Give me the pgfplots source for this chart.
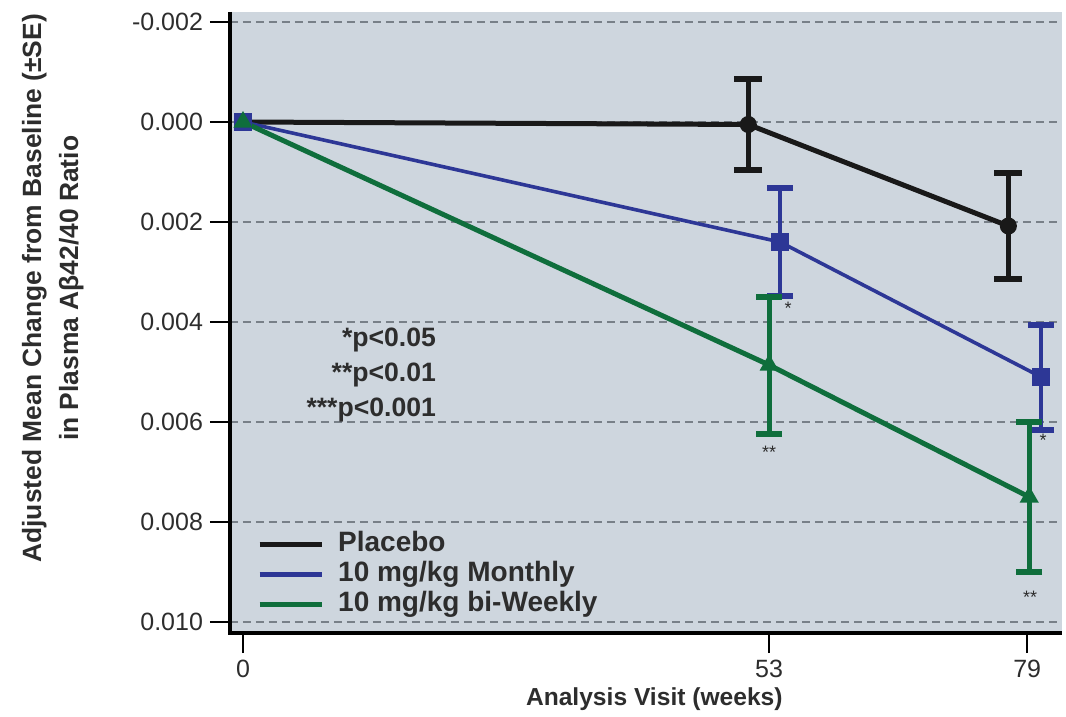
\documentclass[border=0pt]{standalone}
\usepackage{pgfplots}
\pgfplotsset{compat=1.18}
\usepackage{pgfplotstable}
\usepackage{fontspec}
\setmainfont{Liberation Sans}
\definecolor{bgcol}{RGB}{206,214,222}
\definecolor{gridcol}{RGB}{120,128,136}
\definecolor{txtcol}{RGB}{45,45,45}
\definecolor{plcol}{RGB}{25,25,25}
\definecolor{mocol}{RGB}{45,55,150}
\definecolor{bicol}{RGB}{15,110,60}
\pgfplotstableread{
x y e
0 0 0
50.9 0.00005 0.0009
77.1 0.00208 0.00105
}\placebo
\pgfplotstableread{
x y e
0 0 0
54.1 0.0024 0.00107
80.4 0.0051 0.00105
}\monthly
\pgfplotstableread{
x y e
0 0 0
53.0 0.00486 0.00137
79.2 0.0075 0.0015
}\biweekly
\begin{document}
\begin{tikzpicture}
\useasboundingbox (-115pt,-42pt) rectangle (418pt,316.5pt);
\begin{axis}[
  scale only axis, width=416pt, height=310.5pt,
  at={(0,0)}, anchor=south west,
  xmin=-1.31, xmax=82.5, ymin=-0.0022, ymax=0.01022,
  y dir=reverse,
  axis background/.style={fill=bgcol},
  axis line style={draw=none},
  xtick={0,53,79}, ytick={-0.002,0,0.002,0.004,0.006,0.008,0.010},
  scaled y ticks=false,
  yticklabel style={/pgf/number format/.cd, fixed, fixed zerofill, precision=3, assume math mode=true},
  xticklabel style={/pgf/number format/assume math mode=true},
  ticklabel style={font=\fontsize{12.5}{14}\selectfont, text=txtcol},
  tick align=outside, major tick length=10pt,
  tick style={black, line width=0.8pt},
  xtick pos=lower, ytick pos=left,
  ymajorgrids, grid style={gridcol, dash pattern=on 4pt off 2.5pt, line width=0.7pt},
  xlabel={Analysis Visit (weeks)},
  xlabel style={at={(axis description cs:0.51,-0.106)}, anchor=center, font=\bfseries\fontsize{12.3}{14}\selectfont, text=txtcol},
  ylabel={Adjusted Mean Change from Baseline (±SE)\\in Plasma Aβ42/40 Ratio},
  ylabel style={at={(axis description cs:-0.213,0.555)}, anchor=center, rotate=0, align=center, font=\bfseries\fontsize{13.2}{18.5}\selectfont, text=txtcol},
  legend image code/.code={\draw[#1, mark=none, line width=2.5pt] (0pt,0pt) -- (31pt,0pt); \path (37pt,0pt);},
  legend style={draw=none, fill=none, at={(axis description cs:0.025,0.014)}, anchor=south west,
    font=\bfseries\fontsize{14}{15}\selectfont, text=txtcol,
    nodes={text height=10pt, text depth=3pt, inner sep=1pt}},
  legend cell align=left,
  clip=false,
]
\addplot[plcol, line width=2.5pt, mark=*, mark size=3pt] table[x=x, y=y] {\placebo};
\addlegendentry{Placebo}
\addplot[mocol, line width=1.8pt, mark=square*, mark size=3.5pt] table[x=x, y=y] {\monthly};
\addlegendentry{10 mg/kg Monthly}
\addplot[bicol, line width=2.5pt, mark=triangle*, mark size=3pt] table[x=x, y=y] {\biweekly};
\addlegendentry{10 mg/kg bi-Weekly}
\addplot[draw=none, forget plot, error bars/.cd, y dir=both, y explicit,
  error bar style={plcol, line width=2.5pt}, error mark options={plcol, line width=3pt, mark size=7pt, rotate=90}]
  table[x=x, y=y, y error=e, skip coords between index={0}{1}] {\placebo};
\addplot[draw=none, forget plot, error bars/.cd, y dir=both, y explicit,
  error bar style={mocol, line width=2.2pt}, error mark options={mocol, line width=3pt, mark size=6.5pt, rotate=90}]
  table[x=x, y=y, y error=e, skip coords between index={0}{1}] {\monthly};
\addplot[draw=none, forget plot, error bars/.cd, y dir=both, y explicit,
  error bar style={bicol, line width=2.5pt}, error mark options={bicol, line width=3pt, mark size=6.5pt, rotate=90}]
  table[x=x, y=y, y error=e, skip coords between index={0}{1}] {\biweekly};
\node[font=\fontsize{9}{10}\selectfont, text=txtcol] at (axis cs:54.9,0.00372) {*};
\node[font=\fontsize{9}{10}\selectfont, text=txtcol] at (axis cs:80.6,0.00636) {*};
\node[font=\fontsize{9}{10}\selectfont, text=txtcol] at (axis cs:53,0.0066) {**};
\node[font=\fontsize{9}{10}\selectfont, text=txtcol] at (axis cs:79.3,0.0095) {**};
\node[anchor=east, align=right, font=\bfseries\fontsize{13.3}{17.5}\selectfont, text=txtcol] at (axis description cs:0.256,0.415) {*p<0.05\\**p<0.01\\***p<0.001};
\draw[black, line width=1.8pt] (axis description cs:0,1) -- (axis description cs:0,0) -- (axis description cs:1,0);
\end{axis}
\end{tikzpicture}
\end{document}
